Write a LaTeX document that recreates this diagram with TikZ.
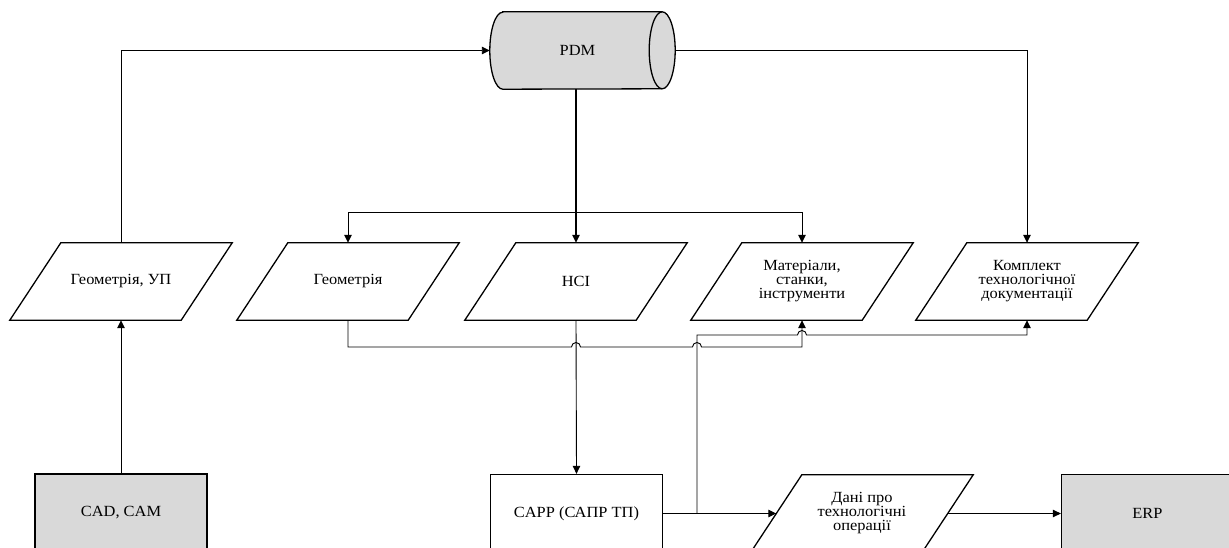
\documentclass[tikz,border=0pt]{standalone}
\usepackage{fontspec}
\setmainfont{Liberation Serif}[FakeStretch=1.06]
\usetikzlibrary{arrows.meta,backgrounds}
\definecolor{boxgray}{HTML}{D9D9D9}
\begin{document}
\begin{tikzpicture}[x=1pt,y=1pt,
  font=\fontsize{15.5}{14}\selectfont,
  base/.style={inner sep=0pt, align=center, minimum height=77pt},
  para/.style={base, minimum width=171pt},
  rectbox/.style={base, draw, line width=1.3pt, minimum width=172pt, minimum height=78pt},
  graybox/.style={rectbox, fill=boxgray},
  outline/.style={draw, line width=1.3pt},
  conn/.style={line width=0.9pt},
  arr/.style={conn, -{Triangle[length=8pt,width=7.5pt]}},
]
\useasboundingbox (0,0) rectangle (1229,-548);
\clip (0,0) rectangle (1229,-548);

% nodes
\node[base, minimum width=185pt] (pdm) at (582.5,-50.5) {\hspace*{-10pt}PDM};
\node[para] (geoup) at (121,-281.5) {Геометрія, УП};
\node[para] (geo) at (348,-281.5) {Геометрія};
\node[para] (nsi) at (576,-281.5) {НСІ};
\node[para] (mat) at (802,-281.5) {Матеріали,\\станки,\\інструменти};
\node[para] (kompl) at (1027,-281.5) {Комплект\\технологічної\\документації};
\node[graybox] (cad) at (121,-513) {CAD, CAM};
\node[rectbox] (capp) at (576.5,-513.5) {CAPP (САПР ТП)};
\node[para] (dani) at (862,-513.5) {Дані про\\технологічні\\операції};
\node[graybox] (erp) at (1147.5,-513.5) {ERP};

% cylinder
\begin{scope}[on background layer]
\path[draw, line width=1.3pt, fill=boxgray]
  ([xshift=13pt]pdm.north west) -- ([xshift=-13pt]pdm.north east)
  arc[start angle=90,end angle=-90,x radius=13pt,y radius=38.5pt]
  -- ([xshift=13pt]pdm.south west)
  arc[start angle=270,end angle=90,x radius=13pt,y radius=38.5pt] -- cycle;
\draw[line width=1.3pt] ([xshift=-13pt]pdm.north east)
  arc[start angle=90,end angle=270,x radius=13pt,y radius=38.5pt];
\end{scope}

% parallelograms
\foreach \n in {geoup,geo,nsi,mat,kompl,dani}
  \draw[outline] ([xshift=25.5pt]\n.north west) -- ([xshift=25.5pt]\n.north east)
    -- ([xshift=-25.5pt]\n.south east) -- ([xshift=-25.5pt]\n.south west) -- cycle;

% helper coordinates
\coordinate (br) at (576,-212);
\coordinate (hy) at (0,-347);
\coordinate (hb) at (0,-335);
\coordinate (j) at (697,-513.5);

% connectors
\draw[arr] (cad.north) -- (geoup.south);
\draw[arr] (geoup.north) |- (pdm.west);
\draw[arr] (pdm.east) -| (kompl.north);
\draw[arr, line width=1.3pt] (pdm.south -| nsi.north) -- (nsi.north);
\draw[arr] (br) -| (geo.north);
\draw[arr] (br) -| (mat.north);
\draw[arr] (geo.south) |- (571.5,-347) arc[start angle=180,end angle=0,radius=4.5pt]
  -- (692.5,-347) arc[start angle=180,end angle=0,radius=4.5pt]
  -- (mat.south |- hy) -- (mat.south);
\draw[arr] (nsi.south) -- (capp.north);
\draw[arr] (capp.east) -- (dani.west);
\draw[arr] (j) |- (797.5,-335) arc[start angle=180,end angle=0,radius=4.5pt]
  -- (kompl.south |- hb) -- (kompl.south);
\draw[arr] (dani.east) -- (erp.west);
\end{tikzpicture}
\end{document}
